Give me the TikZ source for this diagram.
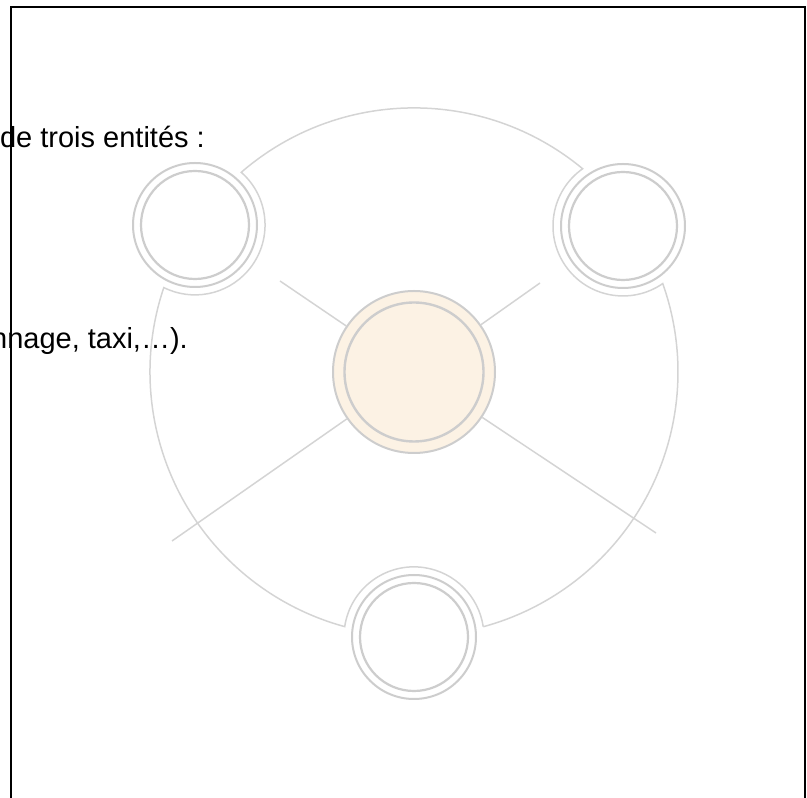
\documentclass[tikz,border=0pt]{standalone}
\usepackage{fontspec}
\setmainfont{Liberation Sans}
\definecolor{ringgray}{RGB}{205,205,205}
\definecolor{linegray}{RGB}{212,212,212}
\definecolor{cream}{RGB}{252,242,228}
\begin{document}
\begin{tikzpicture}[x=1pt,y=1pt,
  bigring/.style={draw=linegray,line width=1.5pt},
  spoke/.style={draw=linegray,line width=1.5pt},
  satout/.style={circle,draw=ringgray,line width=2pt,fill=white,minimum size=124pt,inner sep=0pt},
  satin/.style={circle,draw=ringgray,line width=2.2pt,minimum size=108pt,inner sep=0pt},
  hubout/.style={circle,draw=ringgray,line width=2pt,fill=cream,minimum size=162pt,inner sep=0pt},
  hubin/.style={circle,draw=ringgray,line width=2.4pt,minimum size=139pt,inner sep=0pt},
  txt/.style={anchor=base east,inner sep=0pt,font=\fontsize{29}{35}\selectfont},
  frame/.style={draw=black,line width=2pt,line join=miter}]
\useasboundingbox (0,0) rectangle (807,798);
\clip (0,0) rectangle (807,798);
% texts
\node[txt] (t1) at (205,650) {de trois entités :};
\node[txt] (t2) at (188,449) {nnage, taxi,…).};
% big ring with detours
\coordinate (C) at (414,426);
\draw[bigring] (C) ++(-74.79:264)
  arc[start angle=-74.79, end angle=19.57, radius=264]
  arc[start angle=-55.4, end angle=-234.8, radius=70]
  arc[start angle=50.31, end angle=130.89, radius=264]
  arc[start angle=48.7, end angle=-116.5, radius=70]
  arc[start angle=161.37, end angle=254.79, radius=264]
  arc[start angle=171.6, end angle=8.4, radius=70];
% hub
\node[hubout] (hub) at (C) {};
\node[hubin] (hubi) at (C) {};
% spokes
\coordinate (e1) at (280,517);
\coordinate (e2) at (540,515);
\coordinate (e3) at (172,257);
\coordinate (e4) at (656,265);
\draw[spoke] (hub) -- (e1);
\draw[spoke] (hub) -- (e2);
\draw[spoke] (hub) -- (e3);
\draw[spoke] (hub) -- (e4);
% satellites
\node[satout] (sl) at (195,573) {};
\node[satin] (sli) at (195,573) {};
\node[satout] (sr) at (623,572) {};
\node[satin] (sri) at (623,572) {};
\node[satout] (sb) at (414,161) {};
\node[satin] (sbi) at (414,161) {};
% frame
\draw[frame] (11,-5) -- (11,791) -- (805,791) -- (805,-5);
\end{tikzpicture}
\end{document}
